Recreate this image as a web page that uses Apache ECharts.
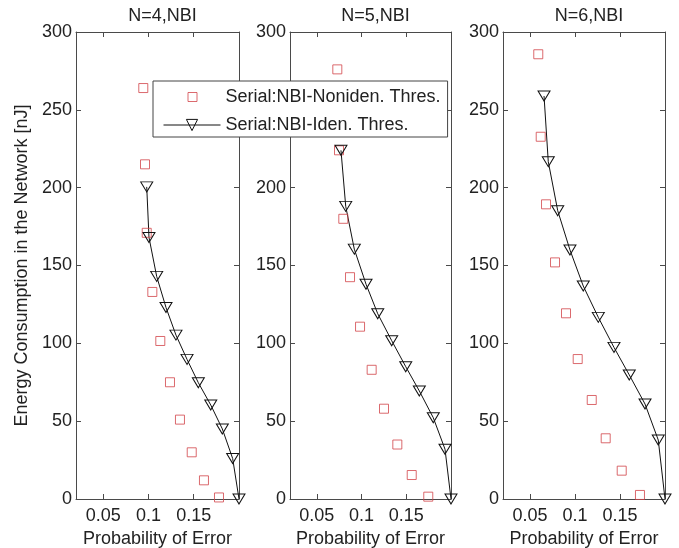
<!DOCTYPE html>
<html>
<head>
<meta charset="utf-8">
<script src="https://cdn.jsdelivr.net/npm/echarts@6/dist/echarts.min.js"></script>
<style>
  html, body { margin: 0; padding: 0; background: #fff; }
  #chart { width: 679px; height: 548px; }
</style>
</head>
<body>
<div id="chart"></div>
<script>
// Panel titles and series names
const panelTitles = ['N=4,NBI', 'N=5,NBI', 'N=6,NBI'];
const seriesNames = ['Serial:NBI-Noniden. Thres.', 'Serial:NBI-Iden. Thres.'];
const xTickValues = [0.05, 0.1, 0.15];
const xAxisName = 'Probability of Error';
const yAxisName = 'Energy Consumption in the Network [nJ]';

// N=4: non-identical thresholds (squares)
const n4NonidenX = [0.0943, 0.0962, 0.0981, 0.1043, 0.1131, 0.1238, 0.1348, 0.1478, 0.1613, 0.1779];
const n4NonidenY = [264, 215, 171, 133, 101.5, 75, 51, 30, 12, 1];
// N=4: identical thresholds (triangles + line)
const n4IdenX = [0.0981, 0.1006, 0.1091, 0.1194, 0.1304, 0.1426, 0.1551, 0.1688, 0.1816, 0.1930, 0.2];
const n4IdenY = [200.5, 168, 143, 123, 105.3, 89.7, 74.7, 60.4, 45, 26, 0];

// N=5
const n5NonidenX = [0.0729, 0.0748, 0.0796, 0.0871, 0.0983, 0.1113, 0.1251, 0.1400, 0.1561, 0.1746];
const n5NonidenY = [276, 224, 180, 142.5, 110.7, 83, 58, 35, 15.4, 1.5];
const n5IdenX = [0.0770, 0.0823, 0.0919, 0.1050, 0.1181, 0.1337, 0.1494, 0.1646, 0.1802, 0.1933, 0.2];
const n5IdenY = [224, 188, 160.5, 138, 119, 101.7, 85, 69.4, 52.2, 32, 0];

// N=6
const n6NonidenX = [0.0592, 0.0619, 0.0678, 0.0778, 0.0900, 0.1030, 0.1186, 0.1341, 0.1519, 0.1722];
const n6NonidenY = [285.7, 232.7, 189.3, 152, 119.3, 89.9, 63.6, 39, 18.2, 2.6];
const n6IdenX = [0.0656, 0.0703, 0.0808, 0.0944, 0.1092, 0.1259, 0.1433, 0.1603, 0.1778, 0.1925, 0.2];
const n6IdenY = [258.9, 216.7, 185.2, 160, 136.8, 116.7, 97.4, 79.7, 61, 37.9, 0];

const panels = [
  { nonX: n4NonidenX, nonY: n4NonidenY, idX: n4IdenX, idY: n4IdenY },
  { nonX: n5NonidenX, nonY: n5NonidenY, idX: n5IdenX, idY: n5IdenY },
  { nonX: n6NonidenX, nonY: n6NonidenY, idX: n6IdenX, idY: n6IdenY }
];

const zip = (xs, ys) => xs.map((x, i) => [x, ys[i]]);

const FONT = "'Liberation Sans', Arial, Helvetica, sans-serif";
const TEXT = '#222';
const AXIS = '#4a4a4a';
const RED = '#d2454a';
const BLACK = '#111';

const gridBoxes = [
  { left: 76, width: 163 },
  { left: 290, width: 161 },
  { left: 503, width: 162 }
];
const gridTop = 32, gridHeight = 467;

const grid = gridBoxes.map(g => ({
  left: g.left, width: g.width, top: gridTop, height: gridHeight,
  containLabel: false, outerBoundsMode: 'none'
}));

const title = panelTitles.map((t, i) => ({
  text: t,
  left: gridBoxes[i].left + gridBoxes[i].width / 2,
  top: 2,
  textAlign: 'center',
  textStyle: { fontFamily: FONT, fontSize: 18, fontWeight: 'normal', color: TEXT }
}));

const xAxis = [];
const yAxis = [];
panels.forEach((p, i) => {
  xAxis.push({
    type: 'value', gridIndex: i, position: 'bottom', min: 0.02, max: 0.2,
    name: xAxisName, nameLocation: 'middle', nameGap: 29,
    nameTextStyle: { fontFamily: FONT, fontSize: 18, color: TEXT },
    axisLine: { show: true, onZero: false, lineStyle: { color: AXIS, width: 1 } },
    axisTick: { show: true, inside: true, length: 5, customValues: xTickValues, lineStyle: { color: AXIS } },
    axisLabel: { show: true, customValues: xTickValues, margin: 8, fontFamily: FONT, fontSize: 18, color: TEXT,
                 formatter: v => String(v) },
    splitLine: { show: false }
  });
  xAxis.push({
    type: 'value', gridIndex: i, position: 'top', min: 0.02, max: 0.2,
    axisLine: { show: true, onZero: false, lineStyle: { color: AXIS, width: 1 } },
    axisTick: { show: true, inside: true, length: 5, customValues: xTickValues, lineStyle: { color: AXIS } },
    axisLabel: { show: false },
    splitLine: { show: false }
  });
  yAxis.push({
    type: 'value', gridIndex: i, position: 'left', min: 0, max: 300, interval: 50,
    name: i === 0 ? yAxisName : '', nameLocation: 'middle', nameGap: 45,
    nameTextStyle: { fontFamily: FONT, fontSize: 18, color: TEXT },
    axisLine: { show: true, onZero: false, lineStyle: { color: AXIS, width: 1 } },
    axisTick: { show: true, inside: true, length: 5, lineStyle: { color: AXIS } },
    axisLabel: { show: true, margin: 4, fontFamily: FONT, fontSize: 18, color: TEXT },
    splitLine: { show: false }
  });
  yAxis.push({
    type: 'value', gridIndex: i, position: 'right', min: 0, max: 300, interval: 50,
    axisLine: { show: true, onZero: false, lineStyle: { color: AXIS, width: 1 } },
    axisTick: { show: true, inside: true, length: 5, lineStyle: { color: AXIS } },
    axisLabel: { show: false },
    splitLine: { show: false }
  });
});

const series = [];
panels.forEach((p, i) => {
  series.push({
    name: seriesNames[0], type: 'scatter', xAxisIndex: 2 * i, yAxisIndex: 2 * i,
    data: zip(p.nonX, p.nonY), symbol: 'rect', symbolSize: 9, clip: false,
    itemStyle: { color: 'rgba(0,0,0,0)', borderColor: RED, borderWidth: 1 },
    emphasis: { disabled: true }, z: 3
  });
  series.push({
    name: seriesNames[1], type: 'line', xAxisIndex: 2 * i, yAxisIndex: 2 * i,
    data: zip(p.idX, p.idY), symbol: 'triangle', symbolRotate: 180, symbolSize: [12, 10],
    showAllSymbol: true, clip: false,
    lineStyle: { color: BLACK, width: 1 },
    itemStyle: { color: 'rgba(0,0,0,0)', borderColor: BLACK, borderWidth: 1 },
    emphasis: { disabled: true }, z: 3
  });
});

const chart = echarts.init(document.getElementById('chart'), null, { renderer: 'canvas' });
chart.setOption({
  backgroundColor: '#fff',
  animation: false,
  title,
  grid,
  xAxis,
  yAxis,
  legend: {
    left: 153, top: 81, orient: 'vertical',
    itemWidth: 57, itemHeight: 14, itemGap: 10,
    padding: [7, 7, 3, 10],
    backgroundColor: '#fff', borderColor: '#444', borderWidth: 1, borderRadius: 0,
    selectedMode: false,
    itemStyle: { borderWidth: 1 },
    lineStyle: { width: 1 },
    textStyle: { fontFamily: FONT, fontSize: 18, color: TEXT, lineHeight: 18 },
    data: [
      // small square marker padded inside a 13x14 box so it keeps its size in the legend
      { name: seriesNames[0], icon: 'path://M0,0M13,14M2.5,2.5L11.5,2.5L11.5,11.5L2.5,11.5Z' },
      { name: seriesNames[1] }
    ]
  },
  series
});
</script>
</body>
</html>
